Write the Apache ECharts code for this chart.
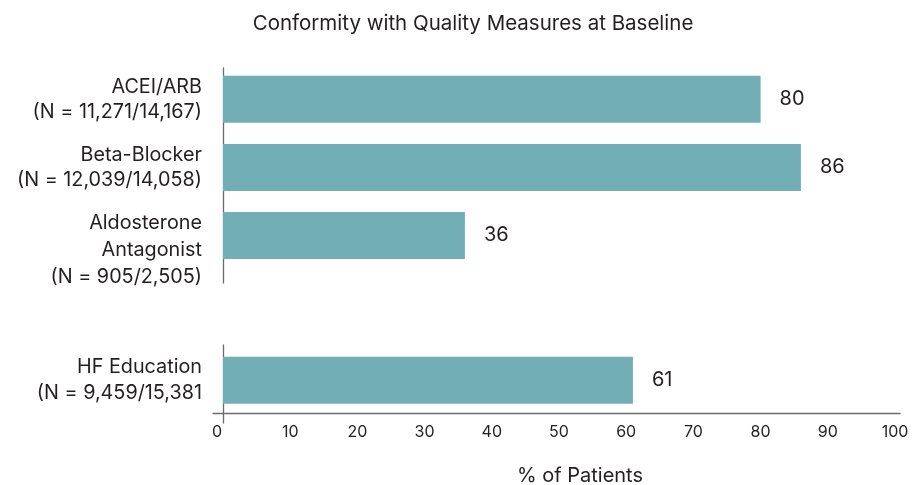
<!DOCTYPE html>
<html>
<head>
<meta charset="utf-8">
<script src="https://cdn.jsdelivr.net/npm/echarts@6/dist/echarts.min.js"></script>
<style>html,body{margin:0;padding:0;background:#fff}#c{width:914px;height:485px}</style>
</head>
<body>
<div id="c"></div>
<script>
var titleText = 'Conformity with Quality Measures at Baseline';
var xAxisName = '% of Patients';
var topCategories = ['ACEI/ARB\n(N = 11,271/14,167)', 'Beta-Blocker\n(N = 12,039/14,058)', 'Aldosterone\nAntagonist\n(N = 905/2,505)'];
var topValues = [80, 86, 36];
var bottomCategories = ['HF Education\n(N = 9,459/15,381'];
var bottomValues = [61];
var xMin = 0, xMax = 100, xStep = 10;

var FONT = 'Inter';
var TXT = '#231f20';
var BAR = '#72aeb5';
var LINE = '#6b6b6b';
var LBL = 19.8;

var chart = echarts.init(document.getElementById('c'), null, {renderer: 'canvas'});

function yCat(data, gridIndex) {
  return {
    type: 'category', gridIndex: gridIndex, inverse: true,
    data: data,
    axisLine: {show: false}, axisTick: {show: false}, splitLine: {show: false},
    axisLabel: {interval: 0, hideOverlap: false, fontFamily: FONT, fontSize: LBL, lineHeight: 25.5, color: TXT, margin: 21, align: 'right',
      formatter: function (v) {
        var parts = v.split('\n');
        return parts.length === 3 ? '{gap|}\n{s|' + parts.join('}\n{s|') + '}' : v;
      },
      rich: {
        s: {fontFamily: FONT, fontSize: LBL, lineHeight: 27, color: TXT},
        gap: {fontSize: 10, lineHeight: 30}
      }
    }
  };
}
var hiddenAxis = function (type, gi) {
  return {type: type, gridIndex: gi, show: false, min: 0, max: 1};
};
var lineAxis = function (gi) {
  return {type: 'value', gridIndex: gi, min: 0, max: 1,
    axisLine: {show: true, onZero: false, lineStyle: {color: LINE, width: 1.3}},
    axisTick: {show: false}, axisLabel: {show: false}, splitLine: {show: false}};
};
var barLabel = {show: true, position: 'right', distance: 19, fontFamily: FONT, fontSize: 20, color: TXT};

chart.setOption({
  animation: false,
  backgroundColor: '#fff',
  title: [
    {text: titleText, left: 468, top: 8, textAlign: 'center',
     textStyle: {fontFamily: FONT, fontSize: 20.5, fontWeight: 'normal', color: TXT}},
    {text: xAxisName, left: 575, top: 461, textAlign: 'center',
     textStyle: {fontFamily: FONT, fontSize: 20, fontWeight: 'normal', color: TXT}}
  ],
  grid: [
    {left: 223, right: 19, top: 65.3, bottom: 215.5},
    {left: 223, right: 19, top: 346.3, bottom: 70.7},
    {left: 213, right: 14, top: 300, bottom: 71.5},
    {left: 223, right: 19, top: 68, bottom: 202},
    {left: 223, right: 19, top: 345, bottom: 62}
  ],
  xAxis: [
    {type: 'value', gridIndex: 0, min: xMin, max: xMax, interval: xStep, show: false},
    {type: 'value', gridIndex: 1, min: xMin, max: xMax, interval: xStep,
     axisLine: {show: false}, axisTick: {show: false}, splitLine: {show: false},
     axisLabel: {fontFamily: FONT, fontSize: 16, color: TXT, margin: 10,
       formatter: function (v) { return v === 0 ? '{z|0}' : String(v); },
       rich: {z: {fontFamily: FONT, fontSize: 16, color: TXT, padding: [0, 12, 0, 0]}}}},
    lineAxis(2),
    hiddenAxis('value', 3),
    hiddenAxis('value', 4)
  ],
  yAxis: [
    yCat(topCategories, 0),
    yCat(bottomCategories, 1),
    hiddenAxis('value', 2),
    lineAxis(3),
    lineAxis(4)
  ],
  series: [
    {type: 'bar', xAxisIndex: 0, yAxisIndex: 0, data: topValues, barWidth: 47,
     itemStyle: {color: BAR}, label: barLabel},
    {type: 'bar', xAxisIndex: 1, yAxisIndex: 1, data: bottomValues, barWidth: 47,
     itemStyle: {color: BAR}, label: barLabel}
  ]
});
</script>
</body>
</html>
